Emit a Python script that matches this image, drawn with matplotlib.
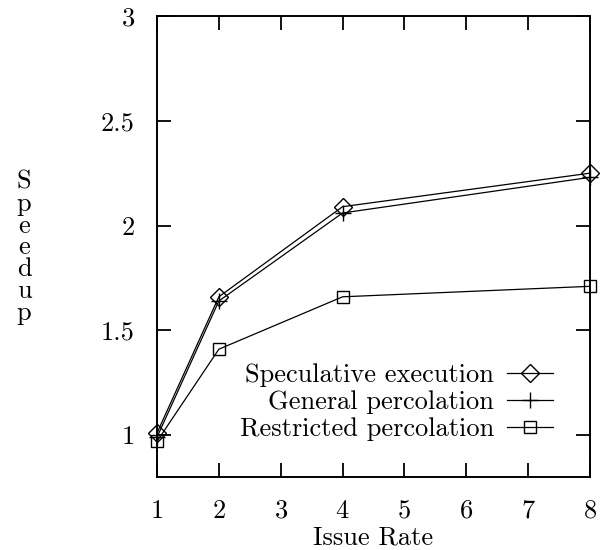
import matplotlib

matplotlib.use("Agg")
import matplotlib.pyplot as plt

plt.rcParams["font.family"] = ["cmr10", "DejaVu Serif"]
plt.rcParams["axes.formatter.use_mathtext"] = True

issue_rate = [1, 2, 4, 8]
speculative = [1.01, 1.66, 2.09, 2.25]
general = [0.99, 1.64, 2.06, 2.23]
restricted = [0.97, 1.41, 1.66, 1.71]

x_ticks = [1, 2, 3, 4, 5, 6, 7, 8]
y_ticks = [1, 1.5, 2, 2.5, 3]
y_tick_labels = ["1", "1.5", "2", "2.5", "3"]

FS = 19

fig = plt.figure(figsize=(6.02, 5.5), dpi=100, facecolor="white")
ax = fig.add_axes([0.2608, 0.1327, 0.7192, 0.8382])

style = dict(color="black", linewidth=0.9, markeredgewidth=1.0,
             markerfacecolor="none", clip_on=False)
ax.plot(issue_rate, speculative, marker="D", markersize=9,
        label="Speculative execution", **style)
ax.plot(issue_rate, general, marker="+", markersize=11,
        label="General percolation", **style)
ax.plot(issue_rate, restricted, marker="s", markersize=8.5,
        label="Restricted percolation", **style)

ax.set_xlim(1, 8)
ax.set_ylim(0.8, 3)
ax.set_xticks(x_ticks)
ax.set_yticks(y_ticks)
ax.set_yticklabels(y_tick_labels)
ax.tick_params(direction="in", length=10, width=1.3, labelsize=FS,
               top=True, right=True)
ax.tick_params(axis="x", pad=16)
ax.tick_params(axis="y", pad=16)
for spine in ax.spines.values():
    spine.set_linewidth(1.4)

ax.set_xlabel("Issue Rate", fontsize=FS, labelpad=2)
fig.text(0.04, 0.55, "S\np\ne\ne\nd\nu\np", fontsize=FS, ha="center", va="center",
         linespacing=0.9)

ax.legend(loc="lower right", bbox_to_anchor=(0.94, 0.055), frameon=False,
          markerfirst=False, fontsize=FS, handlelength=1.75, handletextpad=0.5,
          labelspacing=0.12, borderaxespad=0)

fig.savefig("out.png", dpi=100, facecolor="white")
